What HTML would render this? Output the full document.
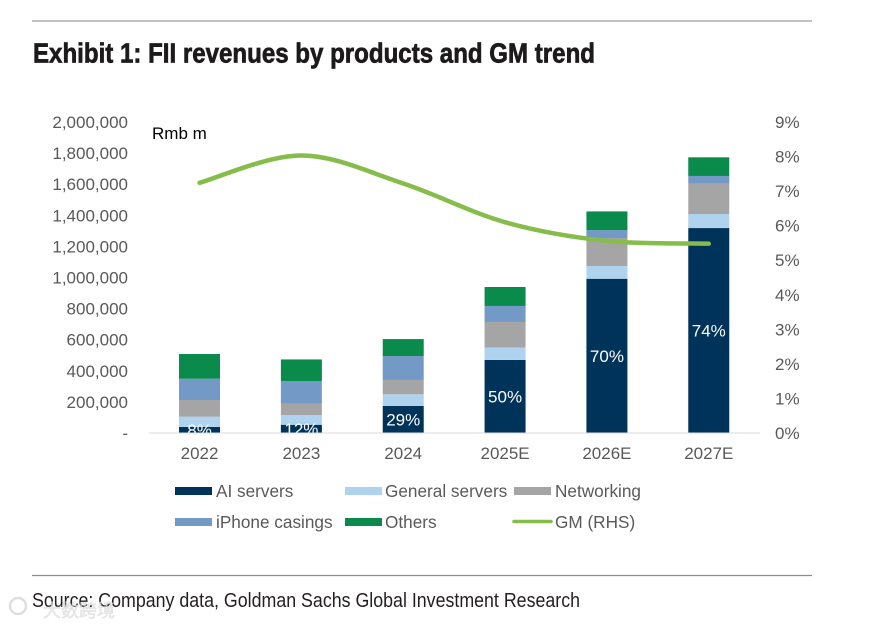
<!DOCTYPE html>
<html lang="en">
<head>
<meta charset="utf-8">
<title>Exhibit 1: FII revenues by products and GM trend</title>
<style>
html,body{margin:0;padding:0;background:#fff;width:875px;height:624px;overflow:hidden}
svg{display:block;font-family:"Liberation Sans",Arial,sans-serif}
</style>
</head>
<body>
<svg id="chart" width="875" height="624" viewBox="0 0 875 624" xmlns="http://www.w3.org/2000/svg">
  <defs>
    <clipPath id="plot-clip"><rect x="140" y="100" width="630" height="332.5"></rect></clipPath>
  </defs>
  <rect x="0" y="0" width="875" height="624" fill="#ffffff"></rect>
  <line x1="32" y1="21" x2="812" y2="21" stroke="#aeaeae" stroke-width="1.5"></line>
  <text x="33" y="62.5" font-size="28" font-weight="700" fill="#1c1a1a" stroke="#1c1a1a" stroke-width="0.7" textLength="562" lengthAdjust="spacingAndGlyphs" style="font-family:'Liberation Sans Narrow','Liberation Sans',sans-serif">Exhibit 1: FII revenues by products and GM trend</text>
  <text x="152" y="139" font-size="17" fill="#000000">Rmb m</text>
  <g id="bars"></g>
  <line x1="148.5" y1="433" x2="760" y2="433" stroke="#d9d9d9" stroke-width="1"></line>
  <g id="labels" clip-path="url(#plot-clip)"></g>
  <g id="axes"></g>
  <path id="gm-line" fill="none" stroke="#86bc4a" stroke-width="4.5" stroke-linecap="round" stroke-linejoin="round"></path>

  <g font-size="17.2" fill="#58595b">
    <rect x="175" y="487" width="37" height="8" fill="#003359"></rect>
    <text x="216" y="497">AI servers</text>
    <rect x="345" y="487" width="37" height="8" fill="#afd3ee"></rect>
    <text x="385" y="497">General servers</text>
    <rect x="514" y="487" width="37" height="8" fill="#a5a5a5"></rect>
    <text x="555" y="497">Networking</text>
    <rect x="175" y="518" width="37" height="8" fill="#7399c6"></rect>
    <text x="216" y="528">iPhone casings</text>
    <rect x="345" y="518" width="37" height="8" fill="#0a8a4b"></rect>
    <text x="385" y="528">Others</text>
    <line x1="514" y1="521.5" x2="551" y2="521.5" stroke="#86bc4a" stroke-width="3.5" stroke-linecap="round"></line>
    <text x="555" y="528">GM (RHS)</text>
  </g>

  <line x1="32" y1="575.5" x2="812" y2="575.5" stroke="#8c8c8c" stroke-width="1.3"></line>
  <text x="32" y="607" font-size="20.5" fill="#231f20" textLength="548" lengthAdjust="spacingAndGlyphs" style="font-family:'Liberation Sans Narrow','Liberation Sans',sans-serif">Source: Company data, Goldman Sachs Global Investment Research</text>

  <g opacity="0.75">
    <circle cx="18" cy="606" r="8" fill="none" stroke="#d4d4d4" stroke-width="2.5"></circle>
    <text x="43" y="617" font-size="18" fill="#e4e4e4" stroke="#cfcfcf" stroke-width="0.4" style="font-family:'Noto Sans CJK SC',sans-serif">大数跨境</text>
  </g>
</svg>
<script>
// Chart data (Rmb m; GM in %)
var categories = ['2022', '2023', '2024', '2025E', '2026E', '2027E'];
var aiServers = [39000, 53000, 174000, 470000, 992000, 1318000];
var generalServers = [66000, 62000, 75000, 80000, 82000, 90000];
var networking = [107000, 75000, 92000, 164000, 180000, 195000];
var iphoneCasings = [137000, 143000, 154000, 103000, 51000, 50000];
var others = [159000, 140000, 109000, 122000, 120000, 120000];
var gmValues = [7.24, 8.03, 7.22, 6.1, 5.56, 5.48];
var aiShareLabels = ['8%', '12%', '29%', '50%', '70%', '74%'];
var leftTickValues = [0, 200000, 400000, 600000, 800000, 1000000, 1200000, 1400000, 1600000, 1800000, 2000000];
var leftTickLabels = ['-', '200,000', '400,000', '600,000', '800,000', '1,000,000', '1,200,000', '1,400,000', '1,600,000', '1,800,000', '2,000,000'];
var rightTickValues = [0, 1, 2, 3, 4, 5, 6, 7, 8, 9];
var rightTickLabels = ['0%', '1%', '2%', '3%', '4%', '5%', '6%', '7%', '8%', '9%'];

var SVG_NS = 'http://www.w3.org/2000/svg';
var plotLeft = 148.6, bandWidth = 101.85, barWidth = 41;
var plotBottom = 433, plotHeight = 311;

function xCenter(i) { return plotLeft + bandWidth * (i + 0.5); }
function yLeft(v) { return plotBottom - v / 2000000 * plotHeight; }
function yRight(v) { return plotBottom - v / 9 * plotHeight; }

function make(tag, attrs, parent, txt) {
  var el = document.createElementNS(SVG_NS, tag);
  for (var k in attrs) { el.setAttribute(k, attrs[k]); }
  if (txt !== undefined) { el.textContent = txt; }
  parent.appendChild(el);
  return el;
}

var barsGroup = document.getElementById('bars');
var labelsGroup = document.getElementById('labels');
var axesGroup = document.getElementById('axes');

var stack = [
  { key: 'ai-servers', values: aiServers, color: '#003359' },
  { key: 'general-servers', values: generalServers, color: '#afd3ee' },
  { key: 'networking', values: networking, color: '#a5a5a5' },
  { key: 'iphone-casings', values: iphoneCasings, color: '#7399c6' },
  { key: 'others', values: others, color: '#0a8a4b' }
];

categories.forEach(function (cat, i) {
  var base = 0;
  stack.forEach(function (s) {
    var top = base + s.values[i];
    var r = make('rect', {
      x: xCenter(i) - barWidth / 2,
      y: yLeft(top),
      width: barWidth,
      height: yLeft(base) - yLeft(top),
      fill: s.color
    }, barsGroup);
    
    
    base = top;
  });

  var lab = make('text', {
    x: xCenter(i),
    y: yLeft(aiServers[i] / 2) + 6,
    'text-anchor': 'middle',
    'font-size': 17,
    fill: '#ffffff'
  }, labelsGroup, aiShareLabels[i]);
  
  

  var xl = make('text', {
    x: xCenter(i),
    y: 459,
    'text-anchor': 'middle',
    'font-size': 17,
    fill: '#58595b'
  }, axesGroup, cat);
  
  
});

leftTickValues.forEach(function (v, i) {
  var t = make('text', {
    x: 128,
    y: yLeft(v) + 6,
    'text-anchor': 'end',
    'font-size': 17,
    fill: '#58595b'
  }, axesGroup, leftTickLabels[i]);
  
  
});

rightTickValues.forEach(function (v, i) {
  var t = make('text', {
    x: 775,
    y: yRight(v) + 6,
    'font-size': 17,
    fill: '#58595b'
  }, axesGroup, rightTickLabels[i]);
  
  
});

// Smoothed GM line, Excel-style cubic through every point
var pts = gmValues.map(function (v, i) { return [xCenter(i), yRight(v)]; });
var d = 'M' + pts[0][0] + ' ' + pts[0][1];
for (var i = 0; i < pts.length - 1; i++) {
  var p0 = pts[Math.max(i - 1, 0)], p1 = pts[i], p2 = pts[i + 1], p3 = pts[Math.min(i + 2, pts.length - 1)];
  var c1x = p1[0] + (p2[0] - p0[0]) / 6, c1y = p1[1] + (p2[1] - p0[1]) / 6;
  var c2x = p2[0] - (p3[0] - p1[0]) / 6, c2y = p2[1] - (p3[1] - p1[1]) / 6;
  d += ' C' + c1x + ' ' + c1y + ' ' + c2x + ' ' + c2y + ' ' + p2[0] + ' ' + p2[1];
}
document.getElementById('gm-line').setAttribute('d', d);
</script>
</body>
</html>
